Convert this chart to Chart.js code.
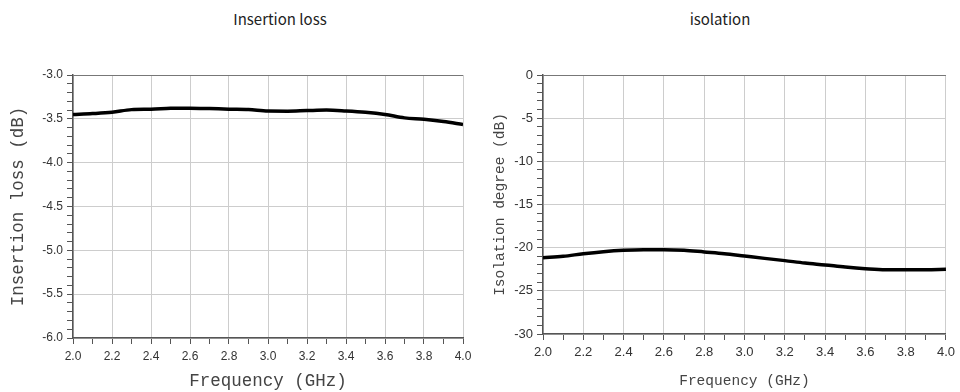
<!DOCTYPE html>
<html>
<head>
<meta charset="utf-8">
<script src="https://cdn.jsdelivr.net/npm/chart.js@4.4.1/dist/chart.umd.min.js"></script>
<style>
  html, body { margin: 0; padding: 0; background: #fff; }
  body { width: 960px; height: 392px; position: relative; overflow: hidden; }
  .panel { position: absolute; top: 0; width: 480px; height: 392px; }
  .title {
    position: absolute; top: 8px; width: 200px; text-align: center;
    font: 15px "Noto Sans CJK SC", "Noto Sans", sans-serif; color: #222;
  }
</style>
</head>
<body>
<div class="title" style="left:180px">Insertion loss</div>
<div class="title" style="left:620px">isolation</div>
<div class="panel" style="left:0"><canvas id="lossChart"></canvas></div>
<div class="panel" style="left:480px"><canvas id="isoChart"></canvas></div>
<script>
// frequency points (GHz)
const freq = [2.0, 2.1, 2.2, 2.3, 2.4, 2.5, 2.6, 2.7, 2.8, 2.9, 3.0,
  3.1, 3.2, 3.3, 3.4, 3.5, 3.6, 3.7, 3.8, 3.9, 4.0];
// insertion loss (dB)
const insertionLoss = [-3.45, -3.44, -3.425, -3.395, -3.39, -3.38, -3.378, -3.383, -3.39, -3.394, -3.412,
  -3.413, -3.406, -3.40, -3.41, -3.425, -3.45, -3.489, -3.504, -3.53, -3.564];
// isolation (dB)
const isolation = [-21.16, -21.0, -20.7, -20.46, -20.3, -20.23, -20.23, -20.3, -20.5, -20.7, -20.97,
  -21.24, -21.5, -21.78, -22.0, -22.24, -22.43, -22.55, -22.55, -22.55, -22.5];

const gridColor = "#cdcdcd";
const axisColor = "#555";
const titleFont = '"Liberation Mono", monospace';
const tickFont = '"Liberation Sans", Arial, sans-serif';

function makeChart(el, cfg) {
  const points = freq.map((f, i) => ({ x: f, y: cfg.values[i] }));
  return new Chart(el, {
    type: "line",
    data: {
      datasets: [{
        data: points,
        borderColor: "#000",
        borderWidth: 3.5,
        pointRadius: 0,
        tension: 0.4,
        cubicInterpolationMode: "monotone",
      }],
    },
    options: {
      responsive: true,
      maintainAspectRatio: false,
      animation: false,
      layout: { padding: { top: 75, right: cfg.padRight, left: 0, bottom: 0 } },
      plugins: { legend: { display: false }, tooltip: { enabled: false } },
      scales: {
        x: {
          type: "linear",
          min: 2.0,
          max: 4.0,
          afterFit: (s) => { s.height = cfg.xHeight; },
          border: { color: axisColor, width: 1.5 },
          grid: {
            color: (c) => (Math.round(c.tick.value * 10) % 2 === 0 ? gridColor : "rgba(0,0,0,0)"),
            tickColor: axisColor,
            tickLength: 6,
          },
          ticks: {
            stepSize: 0.1,
            autoSkip: false,
            maxRotation: 0,
            padding: 5,
            color: "#333",
            font: { family: tickFont, size: cfg.tickSize },
            callback: (v) => (Math.round(v * 10) % 2 === 0 ? v.toFixed(1) : ""),
          },
          title: {
            display: true,
            text: "Frequency (GHz)",
            color: "#444",
            padding: { top: 0, bottom: cfg.xTitlePad },
            font: { family: titleFont, size: cfg.titleSize },
          },
        },
        y: {
          min: cfg.yMin,
          max: cfg.yMax,
          afterFit: (s) => { s.width = cfg.yWidth; },
          border: { color: axisColor, width: 1.5 },
          grid: {
            color: (c) => {
              const v = c.tick.value;
              if (Math.abs(v - cfg.yMax) < 1e-6) return "#777";
              return cfg.isMajor(v) ? gridColor : "rgba(0,0,0,0)";
            },
            tickColor: axisColor,
            tickLength: 6,
          },
          ticks: {
            stepSize: cfg.yStep,
            autoSkip: false,
            padding: 4,
            color: "#333",
            font: { family: tickFont, size: cfg.tickSize },
            callback: (v) => (cfg.isMajor(v) ? cfg.fmt(v) : ""),
          },
          title: {
            display: true,
            text: cfg.yTitle,
            color: "#444",
            padding: { top: cfg.yTitlePad, bottom: 0 },
            font: { family: titleFont, size: cfg.titleSize },
          },
        },
      },
    },
  });
}

makeChart(document.getElementById("lossChart"), {
  values: insertionLoss,
  yMin: -6.0, yMax: -3.0, yStep: 0.1,
  isMajor: (v) => Math.round(v * 10) % 5 === 0,
  fmt: (v) => v.toFixed(1),
  yTitle: "Insertion loss (dB)",
  yWidth: 73, xHeight: 54, padRight: 17,
  tickSize: 12, titleSize: 17.5, yTitlePad: 8, xTitlePad: 0,
});

makeChart(document.getElementById("isoChart"), {
  values: isolation,
  yMin: -30, yMax: 0, yStep: 1,
  isMajor: (v) => Math.round(v) % 5 === 0,
  fmt: (v) => String(Math.round(v)),
  yTitle: "Isolation degree (dB)",
  yWidth: 63, xHeight: 58, padRight: 10,
  tickSize: 13, titleSize: 14.5, yTitlePad: 11, xTitlePad: 2,
});
</script>
</body>
</html>
